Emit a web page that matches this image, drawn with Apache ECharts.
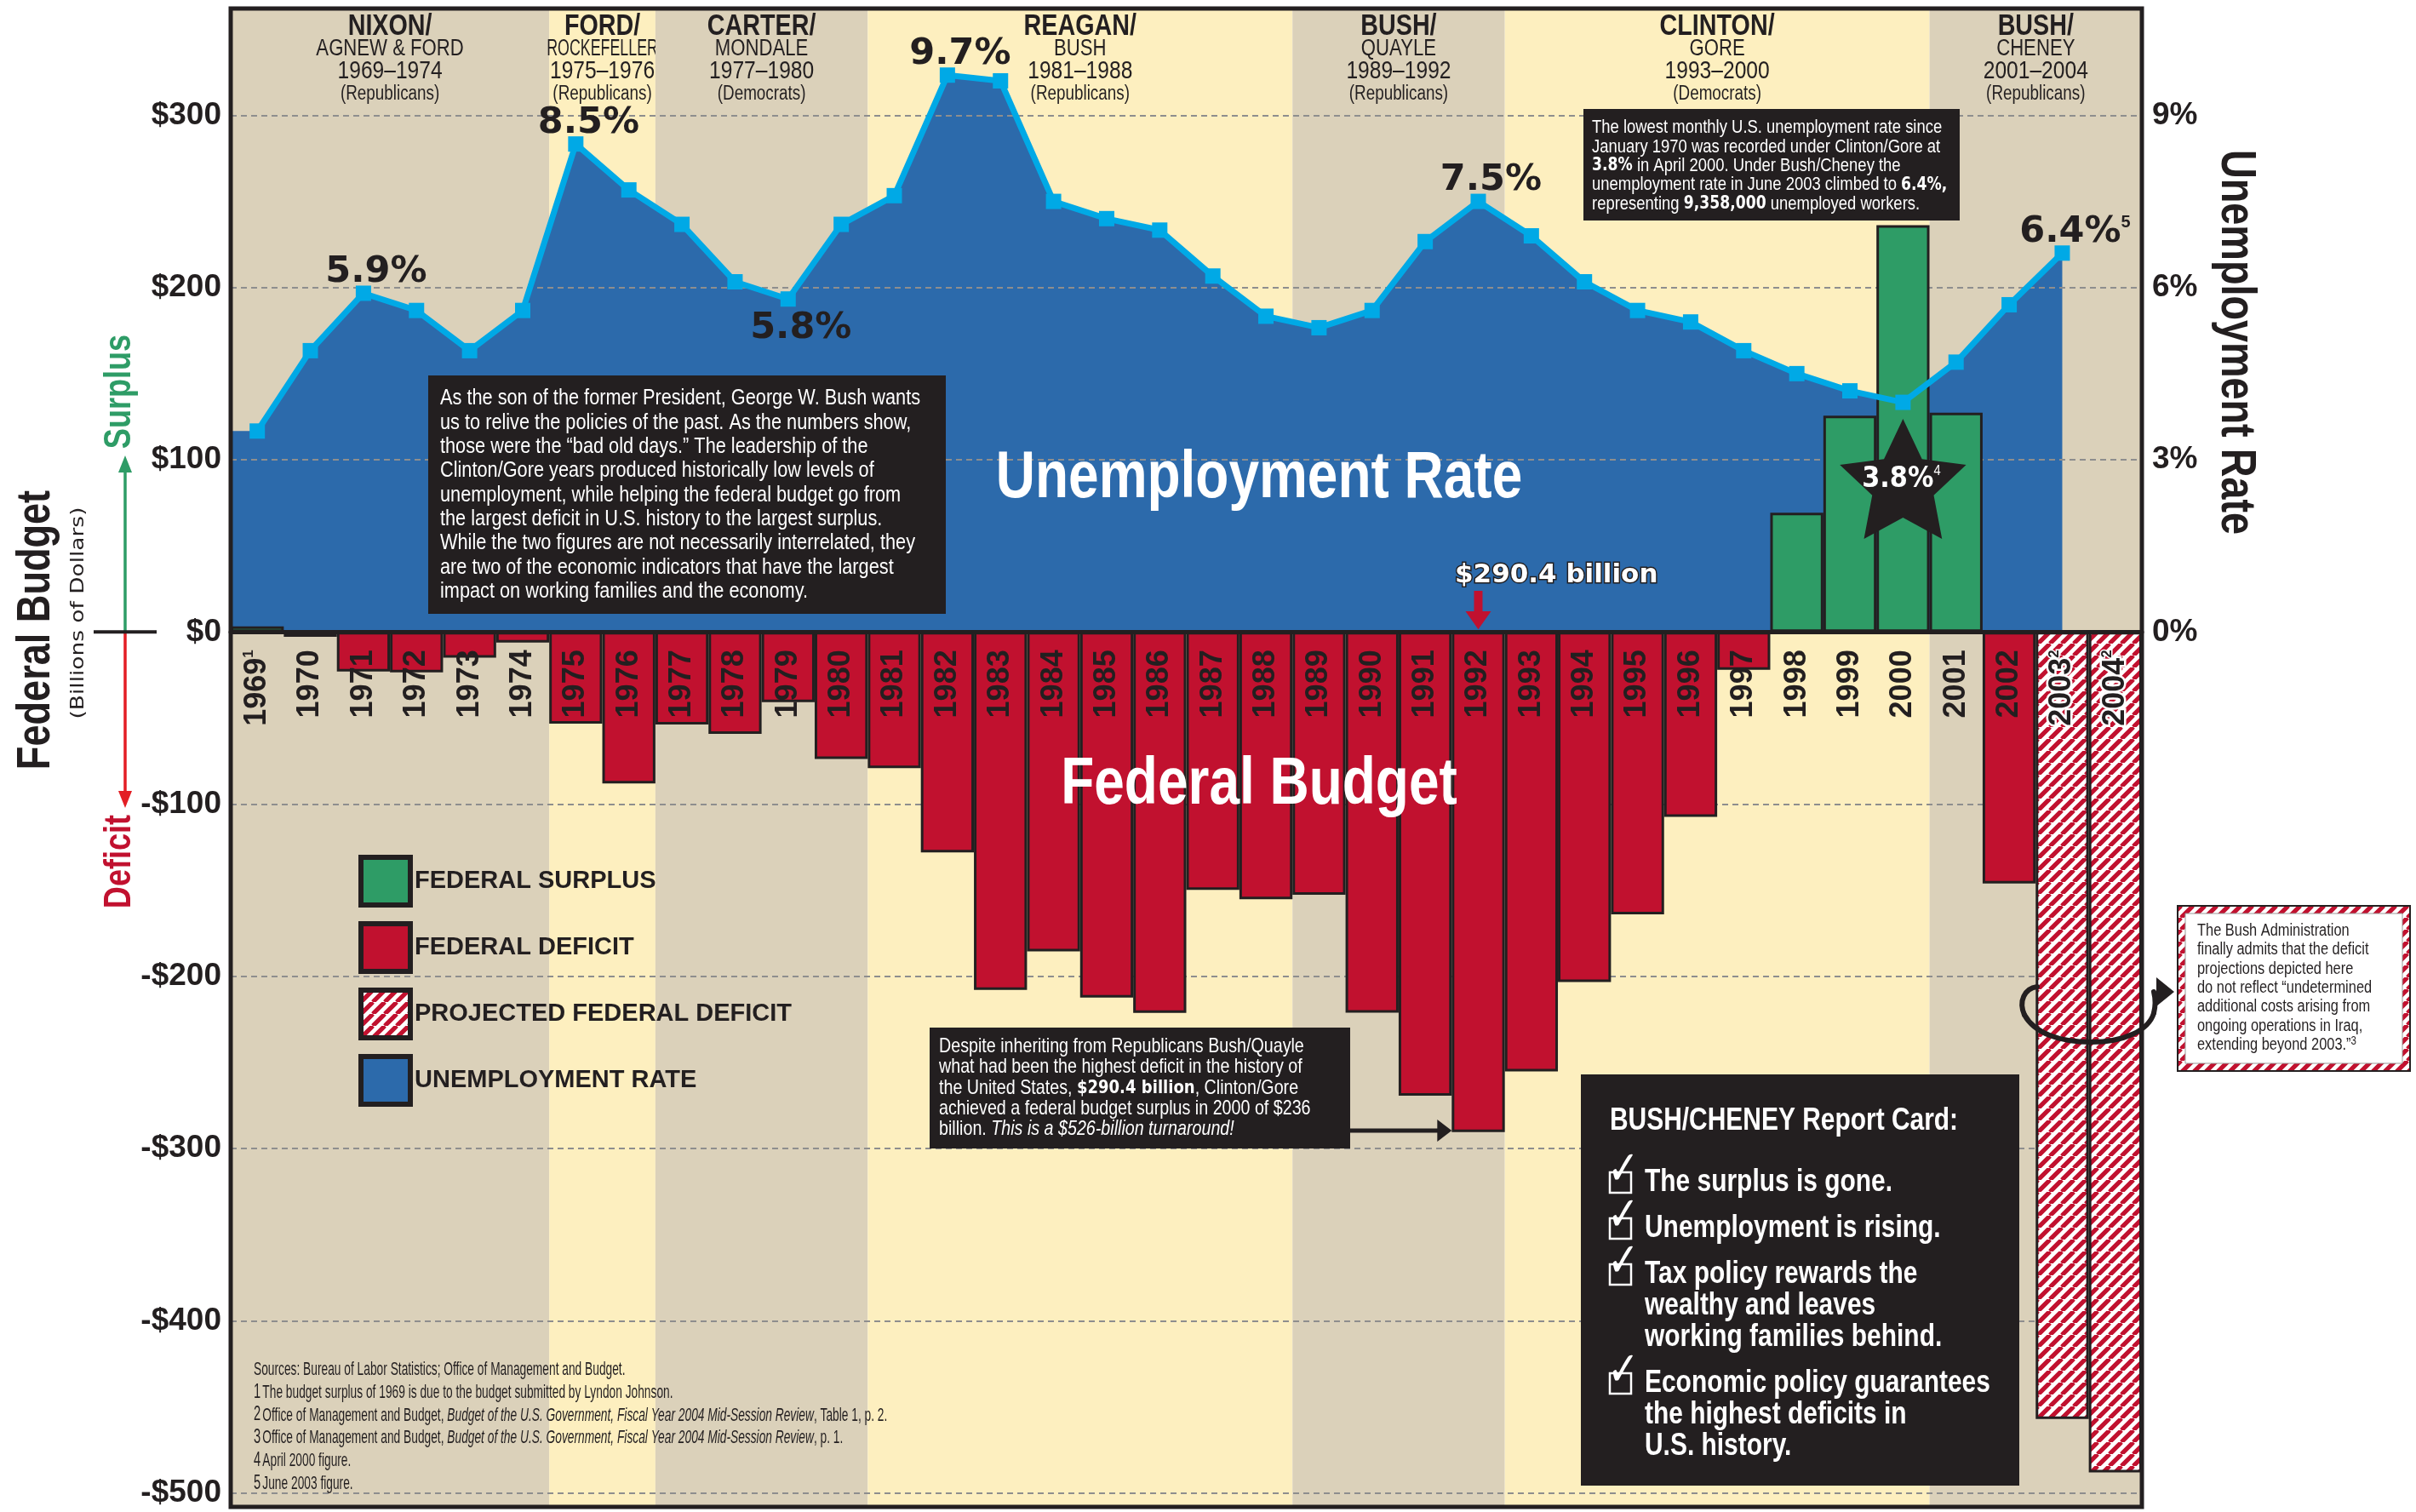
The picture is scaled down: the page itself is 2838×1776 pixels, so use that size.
<!DOCTYPE html>
<html><head><meta charset="utf-8">
<script src="https://cdn.jsdelivr.net/npm/echarts@6/dist/echarts.min.js"></script>
<style>html,body{margin:0;padding:0;background:#fff}#c{width:2838px;height:1776px}</style>
</head><body><div id="c"></div>
<script>
// ---------------- DATA ----------------
const years = ['1969','1970','1971','1972','1973','1974','1975','1976','1977','1978','1979','1980',
  '1981','1982','1983','1984','1985','1986','1987','1988','1989','1990','1991','1992','1993','1994',
  '1995','1996','1997','1998','1999','2000','2001','2002','2003','2004'];
// Federal budget balance, billions of dollars, 1969–2002 (actual)
const budgetActual = [3.2,-2.8,-23.0,-23.4,-14.9,-6.1,-53.2,-87.9,-53.7,-59.2,-40.7,-73.8,
  -79.0,-128.0,-207.8,-185.4,-212.3,-221.2,-149.7,-155.2,-152.6,-221.0,-269.2,-290.4,-255.1,-203.2,
  -164.0,-107.4,-21.9,69.3,125.6,236.2,127.3,-146.0];
// Projected deficits 2003, 2004
const budgetProjected = [-457,-488];
// Unemployment rate (%), 1969–2003
const unemployment = [3.5,4.9,5.9,5.6,4.9,5.6,8.5,7.7,7.1,6.1,5.8,7.1,
  7.6,9.7,9.6,7.5,7.2,7.0,6.2,5.5,5.3,5.6,6.8,7.5,6.9,6.1,
  5.6,5.4,4.9,4.5,4.2,4.0,4.7,5.7,6.6];
const calloutYears = ['1971','1975','1979','1982','1992','2003'];
const calloutTexts = ['5.9%','8.5%','5.8%','9.7%','7.5%','6.4%{s|5}'];
const calloutBelow = [false,false,true,false,false,false];
const notedYears = ['1969','2003','2004'];
const notedMarks = ['1','2','2'];
// Administrations
const bandStart = ['1969','1975','1977','1981','1989','1993','2001'];
const bandEnd   = ['1974','1976','1980','1988','1992','2000','2004'];
const bandPres  = ['NIXON/','FORD/','CARTER/','REAGAN/','BUSH/','CLINTON/','BUSH/'];
const bandVP    = ['AGNEW & FORD','ROCKEFELLER','MONDALE','BUSH','QUAYLE','GORE','CHENEY'];
const bandYears = ['1969–1974','1975–1976','1977–1980','1981–1988','1989–1992','1993–2000','2001–2004'];
const bandParty = ['(Republicans)','(Republicans)','(Democrats)','(Republicans)','(Republicans)','(Democrats)','(Republicans)'];
// Axis setup
const Y_MIN = -508, Y_MAX = 362;       // billions of dollars
const PCT_PER_DOLLAR = 3 / 100;         // 3% unemployment == $100 billion

// ---------------- LAYOUT / STYLE ----------------
const CW = 2838, CH = 1776;
const G = {left:271, right:322, top:10, bottom:6};
const plotH = CH - G.top - G.bottom;
const zeroOffset = plotH * Y_MAX / (Y_MAX - Y_MIN);   // pixel distance from top of plot to $0
const DARK='#231f20', TAN='#dbd1ba', YEL='#fdefbf', BLUE='#2c6aab', CYAN='#00a9e6',
      GREEN='#2e9c66', RED='#c1112f', GRIDC='#8e8e8e';
const SANS = 'Liberation Sans';
const WIDE = 'DejaVu Sans';
const NARROW = 0.82;
const mctx = document.createElement('canvas').getContext('2d');
function textW(t, size, weight){ mctx.font = (weight||'normal')+' '+size+'px "'+SANS+'"'; return mctx.measureText(t).width; }

function hatchCanvas(){
  const n=14, c=document.createElement('canvas'); c.width=c.height=n;
  const g=c.getContext('2d'); g.fillStyle='#ffffff'; g.fillRect(0,0,n,n);
  g.strokeStyle=RED; g.lineWidth=5.2; g.beginPath();
  for(let k=-1;k<=1;k++){ g.moveTo(k*n, n); g.lineTo(k*n+n, 0); }
  g.stroke(); return c;
}
const HATCH = {image: hatchCanvas(), repeat:'repeat'};

// ---------------- DERIVED SERIES ----------------
const nA = budgetActual.length;
const surplus = years.map((y,i)=> i<nA && budgetActual[i]>0 ? budgetActual[i] : null);
const deficit = years.map((y,i)=> i<nA && budgetActual[i]<0 ? budgetActual[i] : null);
const projected = years.map((y,i)=> i>=nA ? budgetProjected[i-nA] : null);
const areaData = [[-0.5, unemployment[0]]].concat(unemployment.map((v,i)=>[i,v]));
const lineData = unemployment.map((v,i)=>{
  const k = calloutYears.indexOf(years[i]);
  if (k<0) return v;
  return {value:v, label:{show:true, position: calloutBelow[k]?'bottom':'top', distance:0,
    offset:[15, calloutBelow[k]? 4 : 6], formatter: calloutTexts[k]}};
});
const bandData = bandStart.map((s,k)=>[years.indexOf(s), years.indexOf(bandEnd[k]), k]);

// header line styles: [size, weight, centre offset from plot top]
const headStyles = [[35,'bold',21],[27,'normal',48],[30,'normal',74],[23,'normal',101]];

const barCommon = {type:'bar', xAxisIndex:0, yAxisIndex:0, barGap:'-100%', barCategoryGap:'0%', z:2};

const option = {
  animation:false,
  backgroundColor:'#ffffff',
  grid:[
    {left:G.left, right:G.right, top:G.top, bottom:G.bottom, containLabel:false, outerBoundsMode:'none'},
    // upper grid whose bottom edge is the $0 line: carries the year axis
    {left:G.left, right:G.right, top:G.top, height:zeroOffset, containLabel:false, outerBoundsMode:'none'}
  ],
  xAxis:[
    {type:'category', gridIndex:0, data:years, boundaryGap:true, position:'bottom', show:true,
     axisLine:{show:false}, axisTick:{show:false}, axisLabel:{show:false}, splitLine:{show:false}},
    {type:'value', gridIndex:0, min:-0.5, max:years.length-0.5, show:false},
    {type:'category', gridIndex:1, data:years, boundaryGap:true, position:'bottom', z:10,
     axisLine:{show:true, onZero:false, lineStyle:{color:DARK, width:5}},
     axisTick:{show:false}, splitLine:{show:false},
     axisLabel:{show:true, interval:0, rotate:90, margin:21, color:DARK, fontFamily:SANS, fontWeight:'bold', fontSize:36,
       formatter:(v)=>{
         const k = notedYears.indexOf(v);
         const proj = years.indexOf(v) >= nA;
         const main = proj ? '{p|'+v+'}' : '{yr|'+v+'}';
         return k<0 ? main : main + (proj ? '{ps|'+notedMarks[k]+'}' : '{sup|'+notedMarks[k]+'}');
       },
       rich:{
         yr:{color:DARK, fontFamily:SANS, fontWeight:'bold', fontSize:36},
         sup:{color:DARK, fontFamily:SANS, fontSize:17, verticalAlign:'top'},
         p:{color:DARK, fontFamily:SANS, fontWeight:'bold', fontSize:36, textBorderColor:'#fff', textBorderWidth:5},
         ps:{color:DARK, fontFamily:SANS, fontSize:17, verticalAlign:'top', textBorderColor:'#fff', textBorderWidth:3}
       }}}
  ],
  yAxis:[
    {type:'value', gridIndex:0, min:Y_MIN, max:Y_MAX, splitNumber:9, position:'left', z:1.5,
     axisLine:{show:false}, axisTick:{show:false},
     axisLabel:{showMinLabel:false, showMaxLabel:false, margin:11, color:DARK, fontFamily:SANS, fontWeight:'bold', fontSize:37,
       formatter:v=> v<0 ? '-$'+(-v) : '$'+v},
     splitLine:{show:true, lineStyle:{color:GRIDC, width:2, type:[7,5]}}},
    {type:'value', gridIndex:0, min:Y_MIN*PCT_PER_DOLLAR, max:Y_MAX*PCT_PER_DOLLAR, splitNumber:9, position:'right',
     axisLine:{show:false}, axisTick:{show:false}, splitLine:{show:false},
     axisLabel:{showMinLabel:false, showMaxLabel:false, margin:12, color:DARK, fontFamily:SANS, fontWeight:'bold', fontSize:37,
       formatter:v=> v>=0 ? Math.round(v)+'%' : ''}},
    {type:'value', gridIndex:1, min:0, max:Y_MAX, show:false}
  ],
  legend:{orient:'vertical', left:421, top:1004, padding:0, itemWidth:58, itemHeight:56, itemGap:16, selectedMode:false,
    textStyle:{fontFamily:SANS, fontWeight:'bold', fontSize:29, color:DARK},
    data:[
      {name:'FEDERAL SURPLUS', icon:'rect', itemStyle:{color:GREEN, borderColor:DARK, borderWidth:6}},
      {name:'FEDERAL DEFICIT', icon:'rect', itemStyle:{color:RED, borderColor:DARK, borderWidth:6}},
      {name:'PROJECTED FEDERAL DEFICIT', icon:'rect', itemStyle:{color:HATCH, borderColor:DARK, borderWidth:6}},
      {name:'UNEMPLOYMENT RATE', icon:'rect', itemStyle:{color:BLUE, borderColor:DARK, borderWidth:6}}
    ]},
  series:[
    {type:'custom', name:'bands', xAxisIndex:1, yAxisIndex:0, z:0, silent:true, clip:false, data:bandData,
     renderItem:(params, api)=>{
       const s=api.value(0), e=api.value(1), k=api.value(2);
       const tl=api.coord([s-0.5, Y_MAX]), br=api.coord([e+0.5, Y_MIN]);
       const bw = br[0]-tl[0], cx=(tl[0]+br[0])/2;
       const lines = [bandPres[k], bandVP[k], bandYears[k], bandParty[k]];
       const kids = [{type:'rect', shape:{x:tl[0], y:tl[1], width:bw, height:br[1]-tl[1]}, style:{fill: k%2 ? YEL : TAN}}];
       lines.forEach((t,j)=>{
         const [sz, wt, dy] = headStyles[j];
         const sx = Math.min(NARROW, (bw+6)/textW(t, sz, wt));
         kids.push({type:'text', x:cx, y:tl[1]+dy, scaleX:sx, style:{text:t, fontFamily:SANS, fontSize:sz, fontWeight:wt,
           fill:DARK, align:'center', verticalAlign:'middle'}});
       });
       return {type:'group', children:kids};
     }},
    {name:'UNEMPLOYMENT RATE', type:'line', xAxisIndex:1, yAxisIndex:1, data:areaData, symbol:'none', silent:true,
     lineStyle:{width:0}, itemStyle:{color:BLUE}, areaStyle:{color:BLUE, opacity:1}, z:1},
    Object.assign({name:'FEDERAL SURPLUS', data:surplus, itemStyle:{color:GREEN, borderColor:DARK, borderWidth:3}}, barCommon),
    Object.assign({name:'FEDERAL DEFICIT', data:deficit, itemStyle:{color:RED, borderColor:DARK, borderWidth:3}}, barCommon),
    Object.assign({name:'PROJECTED FEDERAL DEFICIT', data:projected, itemStyle:{color:HATCH, borderColor:DARK, borderWidth:3}}, barCommon),
    {name:'Unemployment line', type:'line', xAxisIndex:0, yAxisIndex:1, data:lineData, z:3,
     symbol:'rect', symbolSize:18, itemStyle:{color:CYAN}, lineStyle:{color:CYAN, width:7},
     label:{show:false, color:DARK, fontFamily:WIDE, fontWeight:'bold', fontSize:43,
       rich:{s:{color:DARK, fontFamily:SANS, fontSize:20, verticalAlign:'top', lineHeight:40}}}}
  ]
};

const chart = echarts.init(document.getElementById('c'), null, {renderer:'canvas', width:CW, height:CH});
chart.setOption(option);

// ---------------- ANNOTATIONS ----------------
const P = (cat, v) => chart.convertToPixel({xAxisIndex:0, yAxisIndex:0}, [cat, v]);
const PV = (x, v) => chart.convertToPixel({xAxisIndex:1, yAxisIndex:0}, [x, v]);
const tl = PV(-0.5, Y_MAX), br = PV(years.length-0.5, Y_MIN);
const catW = (br[0]-tl[0]) / years.length;
const Z = 100;
const g = [];
function T(x,y,text,st,extra){ g.push(Object.assign({type:'text', x, y, z:Z, style:Object.assign({text, fill:DARK}, st)}, extra||{})); }
function N(x,y,text,st,extra){ T(x,y,text,Object.assign({fontFamily:SANS}, st), Object.assign({scaleX:NARROW}, extra||{})); }
function R(x,y,w,h,st){ g.push({type:'rect', z:Z, shape:{x,y,width:w,height:h}, style:st}); }
function L(x1,y1,x2,y2,w,c){ g.push({type:'line', z:Z, shape:{x1,y1,x2,y2}, style:{stroke:c, lineWidth:w}}); }
function PG(pts,c){ g.push({type:'polygon', z:Z, shape:{points:pts}, style:{fill:c}}); }
function BZ(a,b,c1,c2,w,col){ g.push({type:'bezierCurve', z:Z, shape:{x1:a[0],y1:a[1],x2:b[0],y2:b[1],cpx1:c1[0],cpy1:c1[1],cpx2:c2[0],cpy2:c2[1]},
  style:{fill:null, stroke:col, lineWidth:w, lineCap:'round'}}); }

// plot border
R(tl[0], tl[1], br[0]-tl[0], br[1]-tl[1], {fill:null, stroke:DARK, lineWidth:5});

// left axis titles
N(43, 740, 'Federal Budget', {fontWeight:'bold', fontSize:55, align:'center', verticalAlign:'middle'}, {rotation:Math.PI/2});
T(92, 720, '(Billions of Dollars)', {fontFamily:WIDE, fontSize:22, align:'center', verticalAlign:'middle'}, {rotation:Math.PI/2, scaleX:1.2});
N(141, 460, 'Surplus', {fontWeight:'bold', fontSize:44, fill:GREEN, align:'center', verticalAlign:'middle'}, {rotation:Math.PI/2});
N(141, 1012, 'Deficit', {fontWeight:'bold', fontSize:44, fill:RED, align:'center', verticalAlign:'middle'}, {rotation:Math.PI/2});
const zeroY = P('1969', 0)[1];
L(147, zeroY, 147, 552, 3.5, GREEN); PG([[147,535],[139,555],[155,555]], GREEN);
L(147, zeroY, 147, 932, 3.5, '#e31e24'); PG([[147,949],[139,929],[155,929]], '#e31e24');
L(110, zeroY, 184, zeroY, 4, DARK);
// right axis title
N(2626, 402, 'Unemployment Rate', {fontWeight:'bold', fontSize:57, align:'center', verticalAlign:'middle'}, {rotation:-Math.PI/2});

// big in-chart titles
const bigShadow = {textShadowColor:'rgba(35,31,32,0.85)', textShadowOffsetX:3, textShadowOffsetY:3, textShadowBlur:0};
N(1479, 562, 'Unemployment Rate', Object.assign({fontWeight:'bold', fontSize:78, fill:'#fff', align:'center', verticalAlign:'middle'}, bigShadow));
N(1479, 922, 'Federal Budget', Object.assign({fontWeight:'bold', fontSize:78, fill:'#fff', align:'center', verticalAlign:'middle'}, bigShadow));

// left dark box
R(503, 441, 608, 280, {fill:DARK});
N(517, 454, ['As the son of the former President, George W. Bush wants',
 'us to relive the policies of the past. As the numbers show,',
 'those were the “bad old days.” The leadership of the',
 'Clinton/Gore years produced historically low levels of',
 'unemployment, while helping the federal budget go from',
 'the largest deficit in U.S. history to the largest surplus.',
 'While the two figures are not necessarily interrelated, they',
 'are two of the economic indicators that have the largest',
 'impact on working families and the economy.'].join('\n'),
 {fontSize:26.5, lineHeight:28.3, fill:'#fff', align:'left', verticalAlign:'top'});

// top-right dark box
R(1860, 128, 442, 131, {fill:DARK});
N(1870, 139, ['The lowest monthly U.S. unemployment rate since',
 'January 1970 was recorded under Clinton/Gore at',
 '{b|3.8%} in April 2000. Under Bush/Cheney the',
 'unemployment rate in June 2003 climbed to {b|6.4%,}',
 'representing {b|9,358,000} unemployed workers.'].join('\n'),
 {fontSize:22.5, lineHeight:22.3, fill:'#fff', align:'left', verticalAlign:'top',
  rich:{b:{fontFamily:WIDE, fontWeight:'bold', fontSize:21, lineHeight:22.3, fill:'#fff'}}});

// $290.4 billion marker
const p92 = P('1992', 0);
T(1709, 676, '$290.4 billion', {fontFamily:WIDE, fontWeight:'bold', fontSize:31, fill:'#fff', align:'left', verticalAlign:'middle',
  stroke:DARK, lineWidth:3, textShadowColor:DARK, textShadowOffsetX:2, textShadowOffsetY:2});
R(p92[0]-5, 694, 10, 26, {fill:RED});
PG([[p92[0]-15,718],[p92[0]+15,718],[p92[0],p92[1]-3]], RED);

// star at 2000
const p00 = P('2000', 0);
(function(){ const cx=p00[0], cy=570, Rr=78, r=38, pts=[];
  for(let k=0;k<10;k++){ const a=-Math.PI/2+k*Math.PI/5, rr=k%2?r:Rr; pts.push([cx+rr*Math.cos(a), cy+rr*Math.sin(a)]); }
  PG(pts, DARK);
  T(cx-2, 563, '3.8%{s|4}', {fontFamily:WIDE, fontWeight:'bold', fontSize:33, fill:'#fff', align:'center', verticalAlign:'middle',
    rich:{s:{fontFamily:SANS, fontSize:16, fill:'#fff', verticalAlign:'top', lineHeight:34}}}, {scaleX:0.92});
})();

// bottom middle dark box + arrow to 1992 bar
R(1092, 1207, 494, 142, {fill:DARK});
N(1103, 1217, ['Despite inheriting from Republicans Bush/Quayle',
 'what had been the highest deficit in the history of',
 'the United States, {b|$290.4 billion}, Clinton/Gore',
 'achieved a federal budget surplus in 2000 of $236',
 'billion. {i|This is a $526-billion turnaround!}'].join('\n'),
 {fontSize:24, lineHeight:24.4, fill:'#fff', align:'left', verticalAlign:'top',
  rich:{b:{fontFamily:WIDE, fontWeight:'bold', fontSize:22, lineHeight:24.4, fill:'#fff'},
        i:{fontFamily:SANS, fontStyle:'italic', fontSize:24, lineHeight:24.4, fill:'#fff'}}});
const bar92Left = p92[0] - catW/2;
L(1586, 1328, bar92Left-14, 1328, 5, DARK);
PG([[bar92Left-17,1315],[bar92Left,1328],[bar92Left-17,1341]], DARK);

// report card
R(1857, 1262, 515, 483, {fill:DARK});
N(1891, 1317, 'BUSH/CHENEY Report Card:', {fontWeight:'bold', fontSize:36.5, fill:'#fff', align:'left', verticalAlign:'middle'});
const cardItems = [['The surplus is gone.'],['Unemployment is rising.'],
  ['Tax policy rewards the','wealthy and leaves','working families behind.'],
  ['Economic policy guarantees','the highest deficits in','U.S. history.']];
(function(){ let y=1389;
  cardItems.forEach(lines=>{
    g.push({type:'rect', z:Z, shape:{x:1891, y:y-12, width:25, height:24}, style:{fill:null, stroke:'#fff', lineWidth:2.5}});
    T(1888, y+15, '✓', {fontFamily:WIDE, fontWeight:'bold', fontSize:56, fill:'#fff', align:'left', verticalAlign:'bottom'}, {scaleX:0.8});
    lines.forEach(s=>{ N(1932, y, s, {fontWeight:'bold', fontSize:36.5, fill:'#fff', align:'left', verticalAlign:'middle'}); y+=37; });
    y+=17;
  });
})();

// right note box with hatched border
R(2558, 1064, 273, 194, {fill:HATCH, stroke:DARK, lineWidth:2});
R(2567, 1073, 255, 176, {fill:'#fff', stroke:'#9a9a9a', lineWidth:1});
N(2581, 1082, ['The Bush Administration','finally admits that the deficit','projections depicted here',
 'do not reflect “undetermined','additional costs arising from','ongoing operations in Iraq,',
 'extending beyond 2003.”{s|3}'].join('\n'),
 {fontSize:20, lineHeight:22.4, fill:DARK, align:'left', verticalAlign:'top',
  rich:{s:{fontFamily:SANS, fontSize:14, lineHeight:22.4, fill:DARK, verticalAlign:'top'}}});
// ring arrow around projected bars
BZ([2393,1159],[2378,1192],[2378,1161],[2371,1176],6,DARK);
BZ([2378,1192],[2456,1224],[2390,1214],[2420,1224],6,DARK);
BZ([2456,1224],[2530,1190],[2496,1224],[2524,1210],6,DARK);
BZ([2530,1190],[2530,1165],[2533,1178],[2531,1169],6,DARK);
PG([[2533,1148],[2554,1165],[2533,1182]], DARK);

// footnotes
const fnStyle = {r:{fontFamily:SANS, fontSize:21.5, fill:DARK, lineHeight:24},
  i:{fontFamily:SANS, fontStyle:'italic', fontSize:21.5, fill:DARK, lineHeight:24},
  n:{fontFamily:SANS, fontSize:23, fill:DARK, lineHeight:24, verticalAlign:'top'}};
['{r|Sources: Bureau of Labor Statistics; Office of Management and Budget.}',
 '{n|1} {r|The budget surplus of 1969 is due to the budget submitted by Lyndon Johnson.}',
 '{n|2} {r|Office of Management and Budget, }{i|Budget of the U.S. Government, Fiscal Year 2004 Mid-Session Review}{r|, Table 1, p. 2.}',
 '{n|3} {r|Office of Management and Budget, }{i|Budget of the U.S. Government, Fiscal Year 2004 Mid-Session Review}{r|, p. 1.}',
 '{n|4} {r|April 2000 figure.}',
 '{n|5} {r|June 2003 figure.}'].forEach((s,k)=>{
  T(298, 1609 + k*26.8, s, {rich:fnStyle, align:'left', verticalAlign:'middle'}, {scaleX:0.64});
});

chart.setOption({graphic:{elements:g}});
</script></body></html>
